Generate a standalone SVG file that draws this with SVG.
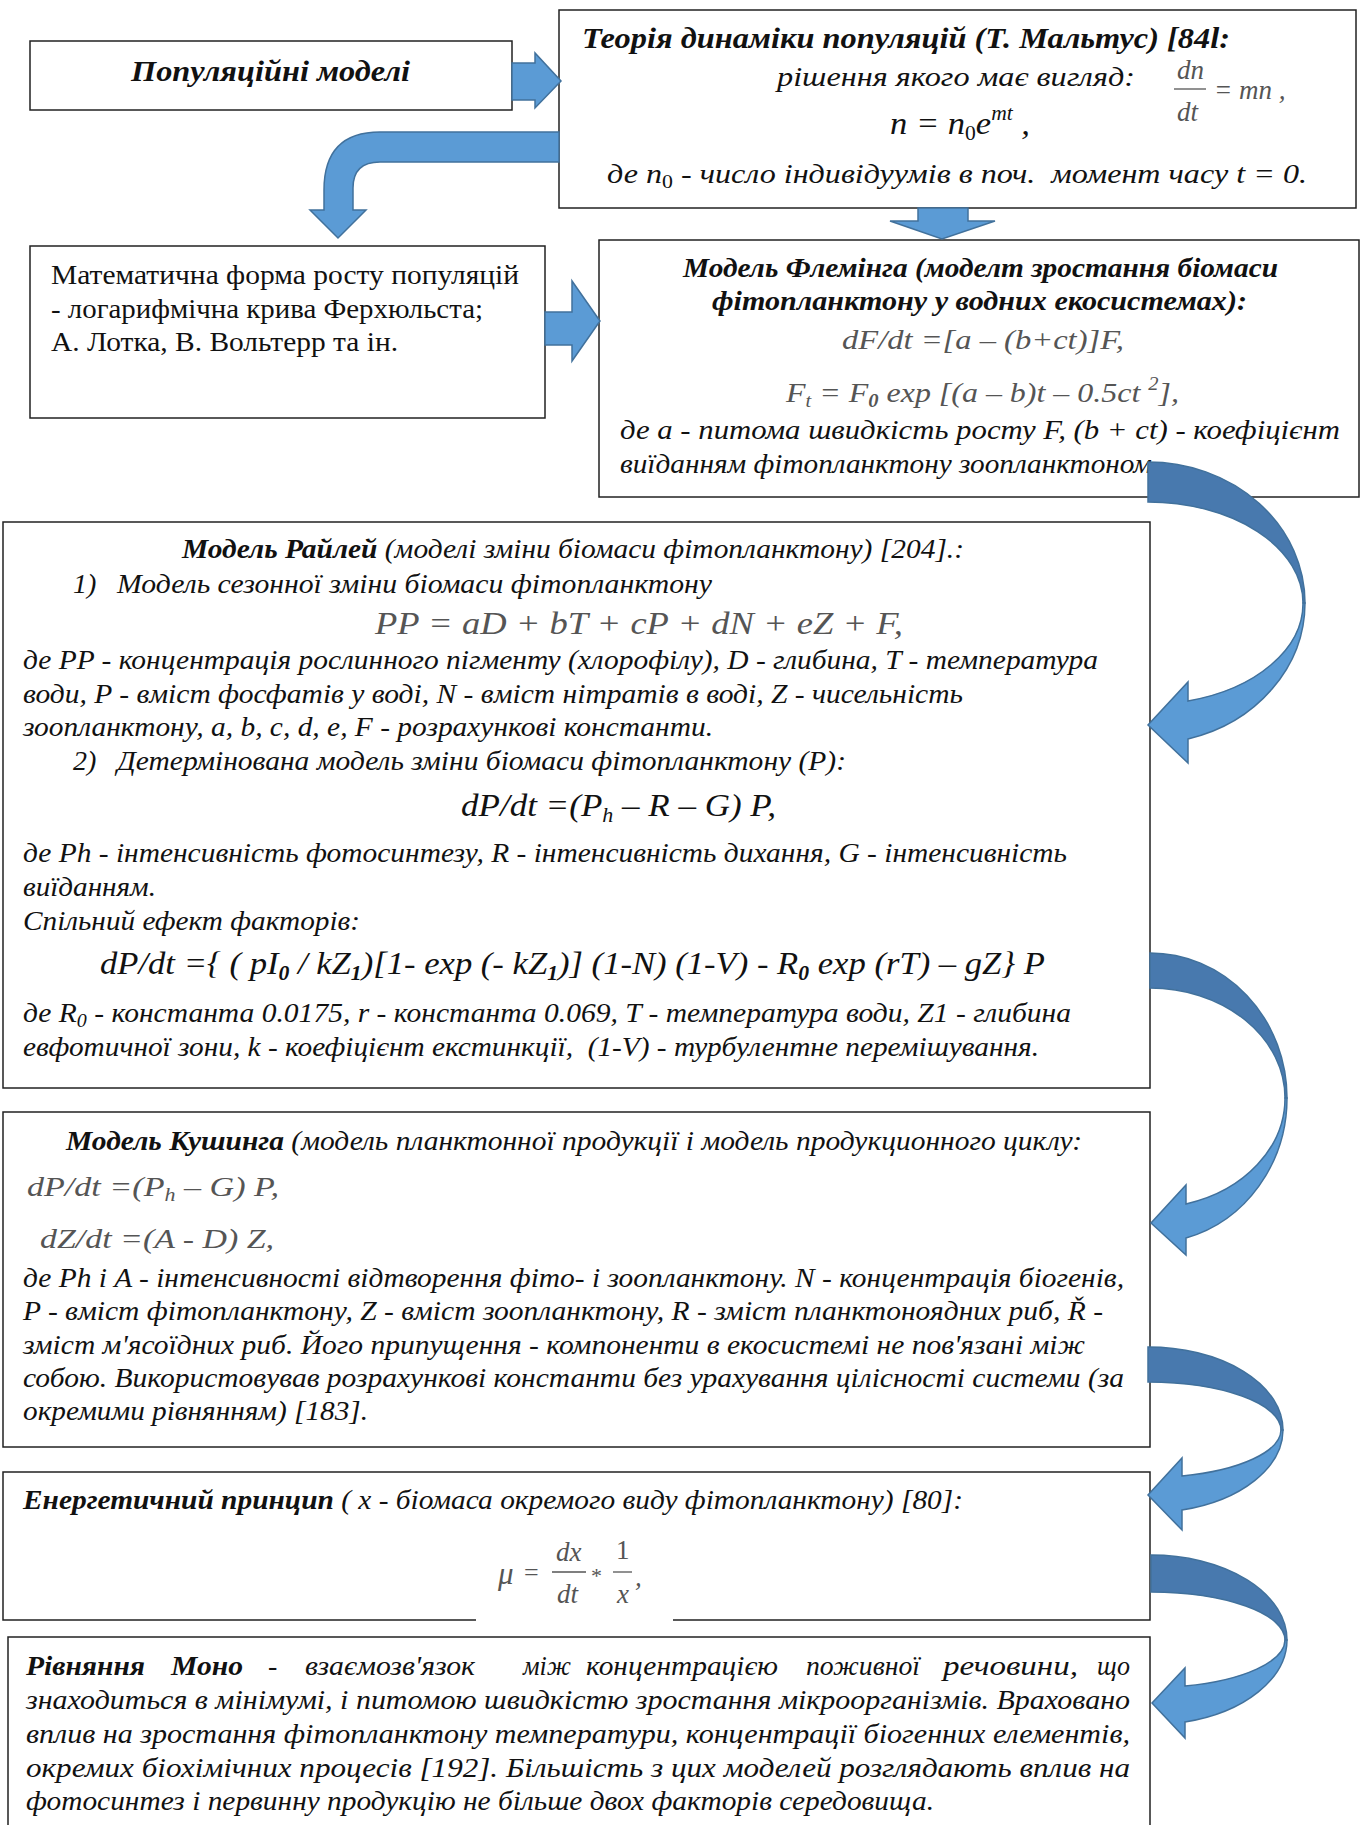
<svg xmlns="http://www.w3.org/2000/svg" width="1366" height="1825" viewBox="0 0 1366 1825">
<style>
.box{fill:#fff;stroke:#222;stroke-width:1.5}
.t{font-family:"Liberation Serif","Times New Roman",serif;font-size:28px;font-style:italic;fill:#111}
.b{font-weight:bold}
.r{font-style:normal}
.g{fill:#555}
.arr{fill:#5b9bd5;stroke:#41719c;stroke-width:1.5}
.dk{fill:#4879ae;stroke:#41719c;stroke-width:1.5}
.ln{stroke:#555;stroke-width:1.3}
</style>
<rect width="1366" height="1825" fill="#fff"/>

<g id="node-populyatsiini">
<rect class="box" x="30" y="41" width="482" height="69"/>
<text class="t b" x="131" y="81" style="font-size:30px" textLength="279" lengthAdjust="spacingAndGlyphs">Популяційні моделі</text>
</g>

<g id="node-maltus">
<rect class="box" x="559" y="10" width="797" height="198"/>
<text class="t b" x="582" y="48" style="font-size:29px" textLength="648" lengthAdjust="spacingAndGlyphs">Теорія динаміки популяцій (Т. Мальтус) [84l:</text>
<text class="t" x="777" y="86" style="font-size:27px" textLength="358" lengthAdjust="spacingAndGlyphs">рішення якого має вигляд:</text>
<text class="t g" x="1177" y="79" style="font-size:27px">dn</text>
<line class="ln" x1="1174" y1="89" x2="1206" y2="89"/>
<text class="t g" x="1177" y="121" style="font-size:27px">dt</text>
<text class="t g" x="1214" y="99" style="font-size:27px">= mn ,</text>
<text class="t" x="890" y="134" style="font-size:32px" textLength="140" lengthAdjust="spacingAndGlyphs">n = n<tspan font-size="20" dy="6" font-style="normal">0</tspan><tspan dy="-6">e</tspan><tspan font-size="20" dy="-14">mt</tspan><tspan dy="14"> ,</tspan></text>
<text class="t" x="607" y="183" textLength="700" lengthAdjust="spacingAndGlyphs">де n<tspan font-size="19" dy="5" font-style="normal">0</tspan><tspan dy="-5"> - число індивідуумів в поч.&#160; момент часу t = 0.</tspan></text>
</g>

<g id="node-matematychna">
<rect class="box" x="30" y="246" width="515" height="172"/>
<text class="t r" x="51" y="284" textLength="468" lengthAdjust="spacingAndGlyphs">Математична форма росту популяцій</text>
<text class="t r" x="51" y="318" textLength="432" lengthAdjust="spacingAndGlyphs">- логарифмічна крива Ферхюльста;</text>
<text class="t r" x="51" y="351" textLength="347" lengthAdjust="spacingAndGlyphs">А. Лотка, В. Вольтерр та ін.</text>
</g>

<g id="node-fleming">
<rect class="box" x="599" y="240" width="760" height="257"/>
<text class="t b" x="683" y="277" textLength="595" lengthAdjust="spacingAndGlyphs">Модель Флемінга (моделт зростання біомаси</text>
<text class="t b" x="712" y="310" textLength="535" lengthAdjust="spacingAndGlyphs">фітопланктону у водних екосистемах):</text>
<text class="t g" x="842" y="349" style="font-size:27px" textLength="282" lengthAdjust="spacingAndGlyphs">dF/dt =[a – (b+ct)]F,</text>
<text class="t g" x="786" y="402" textLength="393" lengthAdjust="spacingAndGlyphs">F<tspan font-size="18" dy="5">t</tspan><tspan dy="-5"> = F</tspan><tspan font-size="18" dy="5" font-weight="bold">0</tspan><tspan dy="-5"> exp [(a – b)t – 0.5ct </tspan><tspan font-size="18" dy="-12">2</tspan><tspan dy="12">],</tspan></text>
<text class="t" x="620" y="439" textLength="720" lengthAdjust="spacingAndGlyphs">де a - питома швидкість росту F, (b + ct) - коефіцієнт</text>
<text class="t" x="620" y="473" textLength="532" lengthAdjust="spacingAndGlyphs">виїданням фітопланктону зоопланктоном</text>
</g>

<g id="node-railey">
<rect class="box" x="3" y="522" width="1147" height="566"/>
<text class="t" x="182" y="558" textLength="782" lengthAdjust="spacingAndGlyphs"><tspan class="b">Модель Райлей</tspan> (моделі зміни біомаси фітопланктону) [204].:</text>
<text class="t" x="73" y="593">1)</text>
<text class="t" x="117" y="593" textLength="595" lengthAdjust="spacingAndGlyphs">Модель сезонної зміни біомаси фітопланктону</text>
<text class="t g" x="375" y="634" style="font-size:32px" textLength="528" lengthAdjust="spacingAndGlyphs">PP = aD + bT + cP + dN + eZ + F,</text>
<text class="t" x="23" y="669" textLength="1075" lengthAdjust="spacingAndGlyphs">де PP - концентрація рослинного пігменту (хлорофілу), D - глибина, T - температура</text>
<text class="t" x="23" y="703" textLength="940" lengthAdjust="spacingAndGlyphs">води, P - вміст фосфатів у воді, N - вміст нітратів в воді, Z - чисельність</text>
<text class="t" x="23" y="736" textLength="690" lengthAdjust="spacingAndGlyphs">зоопланктону, a, b, c, d, e, F - розрахункові константи.</text>
<text class="t" x="73" y="770">2)</text>
<text class="t" x="117" y="770" textLength="729" lengthAdjust="spacingAndGlyphs">Детермінована модель зміни біомаси фітопланктону (P):</text>
<text class="t" x="461" y="816" style="font-size:32px" textLength="315" lengthAdjust="spacingAndGlyphs">dP/dt =(P<tspan font-size="20" dy="6">h</tspan><tspan dy="-6"> – R – G) P,</tspan></text>
<text class="t" x="23" y="862" textLength="1044" lengthAdjust="spacingAndGlyphs">де Ph - інтенсивність фотосинтезу, R - інтенсивність дихання, G - інтенсивність</text>
<text class="t" x="23" y="896" textLength="133" lengthAdjust="spacingAndGlyphs">виїданням.</text>
<text class="t" x="23" y="930" textLength="337" lengthAdjust="spacingAndGlyphs">Спільний ефект факторів:</text>
<text class="t" x="100" y="974" style="font-size:32px" textLength="945" lengthAdjust="spacingAndGlyphs">dP/dt ={ ( pI<tspan font-size="20" dy="6" font-weight="bold">0</tspan><tspan dy="-6"> / kZ</tspan><tspan font-size="20" dy="6" font-weight="bold">1</tspan><tspan dy="-6">)[1- exp (- kZ</tspan><tspan font-size="20" dy="6" font-weight="bold">1</tspan><tspan dy="-6">)] (1-N) (1-V) - R</tspan><tspan font-size="20" dy="6" font-weight="bold">0</tspan><tspan dy="-6"> exp (rT) – gZ} P</tspan></text>
<text class="t" x="23" y="1022" textLength="1048" lengthAdjust="spacingAndGlyphs">де R<tspan font-size="19" dy="5">0</tspan><tspan dy="-5"> - константа 0.0175, r - константа 0.069, T - температура води, Z1 - глибина</tspan></text>
<text class="t" x="23" y="1056" textLength="1016" lengthAdjust="spacingAndGlyphs">евфотичної зони, k - коефіцієнт екстинкції,&#160; (1-V) - турбулентне перемішування.</text>
</g>

<g id="node-kushing">
<rect class="box" x="3" y="1112" width="1147" height="335"/>
<text class="t" x="66" y="1150" textLength="1016" lengthAdjust="spacingAndGlyphs"><tspan class="b">Модель Кушинга</tspan> (модель планктонної продукції і модель продукционного циклу:</text>
<text class="t g" x="27" y="1196" textLength="252" lengthAdjust="spacingAndGlyphs">dP/dt =(P<tspan font-size="18" dy="5">h</tspan><tspan dy="-5"> – G) P,</tspan></text>
<text class="t g" x="40" y="1248" textLength="234" lengthAdjust="spacingAndGlyphs">dZ/dt =(A - D) Z,</text>
<text class="t" x="23" y="1287" textLength="1101" lengthAdjust="spacingAndGlyphs">де Ph і A - інтенсивності відтворення фіто- і зоопланктону. N - концентрація біогенів,</text>
<text class="t" x="23" y="1320" textLength="1080" lengthAdjust="spacingAndGlyphs">P - вміст фітопланктону, Z - вміст зоопланктону, R - зміст планктоноядних риб, Ř -</text>
<text class="t" x="23" y="1354" textLength="1062" lengthAdjust="spacingAndGlyphs">зміст м'ясоїдних риб. Його припущення - компоненти в екосистемі не пов'язані між</text>
<text class="t" x="23" y="1387" textLength="1101" lengthAdjust="spacingAndGlyphs">собою. Використовував розрахункові константи без урахування цілісності системи (за</text>
<text class="t" x="23" y="1420" textLength="345" lengthAdjust="spacingAndGlyphs">окремими рівнянням) [183].</text>
</g>

<g id="node-energy">
<path class="box" d="M476,1620 L3,1620 L3,1472 L1150,1472 L1150,1620 L673,1620" fill="none"/>
<text class="t" x="23" y="1509" textLength="940" lengthAdjust="spacingAndGlyphs"><tspan class="b">Енергетичний принцип</tspan> ( x - біомаса окремого виду фітопланктону) [80]:</text>
<text class="t g" x="498" y="1584" style="font-size:31px">μ</text>
<text class="t g" x="524" y="1581" style="font-size:26px;font-style:normal">=</text>
<text class="t g" x="556" y="1561" style="font-size:27px">dx</text>
<line class="ln" x1="552" y1="1572" x2="586" y2="1572"/>
<text class="t g" x="557" y="1603" style="font-size:27px">dt</text>
<text class="t g" x="591" y="1583" style="font-size:22px;font-style:normal">*</text>
<text class="t g" x="616" y="1559" style="font-size:27px;font-style:normal">1</text>
<line class="ln" x1="613" y1="1572" x2="632" y2="1572"/>
<text class="t g" x="617" y="1603" style="font-size:27px">x</text>
<text class="t g" x="635" y="1586" style="font-size:27px">,</text>
</g>

<g id="node-mono">
<rect class="box" x="8" y="1637" width="1142" height="210"/>
<text class="t b" x="26" y="1675" textLength="119" lengthAdjust="spacingAndGlyphs">Рівняння</text>
<text class="t b" x="171" y="1675" textLength="72" lengthAdjust="spacingAndGlyphs">Моно</text>
<text class="t" x="268" y="1675">-</text>
<text class="t" x="305" y="1675" textLength="170" lengthAdjust="spacingAndGlyphs">взаємозв'язок</text>
<text class="t" x="523" y="1675" textLength="48" lengthAdjust="spacingAndGlyphs">між</text>
<text class="t" x="586" y="1675" textLength="192" lengthAdjust="spacingAndGlyphs">концентрацією</text>
<text class="t" x="806" y="1675" textLength="114" lengthAdjust="spacingAndGlyphs">поживної</text>
<text class="t" x="943" y="1675" textLength="135" lengthAdjust="spacingAndGlyphs">речовини,</text>
<text class="t" x="1097" y="1675" textLength="33" lengthAdjust="spacingAndGlyphs">що</text>
<text class="t" x="26" y="1709" textLength="1104" lengthAdjust="spacingAndGlyphs">знаходиться в мінімумі, і питомою швидкістю зростання мікроорганізмів. Враховано</text>
<text class="t" x="26" y="1743" textLength="1104" lengthAdjust="spacingAndGlyphs">вплив на зростання фітопланктону температури, концентрації біогенних елементів,</text>
<text class="t" x="26" y="1777" textLength="1104" lengthAdjust="spacingAndGlyphs">окремих біохімічних процесів [192]. Більшість з цих моделей розглядають вплив на</text>
<text class="t" x="26" y="1810" textLength="908" lengthAdjust="spacingAndGlyphs">фотосинтез і первинну продукцію не більше двох факторів середовища.</text>
</g>

<g id="connectors">
<polygon class="arr" points="512,63 535,63 535,53 561,81 535,108 535,100 512,100"/>
<path class="arr" d="M559,132 L380,132 Q324,132 324,190 L324,210 L310,210 L338,238 L366,210 L353,210 L353,188 Q353,162 380,162 L559,162 Z"/>
<polygon class="arr" points="918,208 968,208 968,221 995,221 942,239 890,221 918,221"/>
<polygon class="arr" points="545,312 572,312 572,281 600,321 572,361 572,345 545,345"/>

<g id="curved-1">
<path class="dk" d="M1148,462 A157,141 0 0 1 1305,603 L1303,603 A155,101 0 0 0 1148,502 Z"/>
<path class="arr" d="M1305,603 A157,141 0 0 1 1188,739 L1188,763 L1148,725 L1188,682 L1188,701 A155,101 0 0 0 1303,603 Z"/>
</g>
<g id="curved-2">
<path class="dk" d="M1150,953 A137,145 0 0 1 1287,1098 L1285,1098 A135,110 0 0 0 1150,988 Z"/>
<path class="arr" d="M1287,1098 A137,145 0 0 1 1186,1238 L1186,1255 L1151,1223 L1186,1185 L1186,1204 A135,110 0 0 0 1285,1098 Z"/>
</g>
<g id="curved-3">
<path class="dk" d="M1148,1347 A135,83 0 0 1 1283,1430 L1281,1430 A133,48 0 0 0 1148,1382 Z"/>
<path class="arr" d="M1283,1430 A135,83 0 0 1 1182,1510 L1182,1530 L1148,1495 L1182,1458 L1182,1476 A133,48 0 0 0 1281,1430 Z"/>
</g>
<g id="curved-4">
<path class="dk" d="M1151,1555 A136,85 0 0 1 1287,1640 L1285,1640 A134,48 0 0 0 1151,1592 Z"/>
<path class="arr" d="M1287,1640 A136,85 0 0 1 1185,1722 L1185,1738 L1152,1703 L1185,1668 L1185,1686 A134,48 0 0 0 1285,1640 Z"/>
</g>
</g>
</svg>
